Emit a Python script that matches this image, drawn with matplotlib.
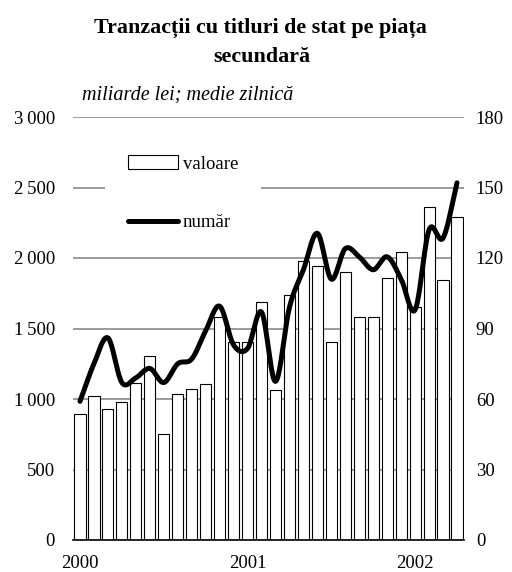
import numpy as np
import matplotlib
matplotlib.use("Agg")
import matplotlib.pyplot as plt
from matplotlib.ticker import FuncFormatter

# monthly, Jan 2000 .. Apr 2002
valoare = [891, 1019, 927, 979, 1111, 1303, 750, 1033, 1069, 1106, 1584, 1402,
           1402, 1690, 1062, 1738, 1981, 1943, 1402, 1898, 1584, 1584, 1860, 2040,
           1650, 2360, 1844, 2289]
numar = [59, 75, 86, 67, 69, 73, 67, 75, 77, 89, 99.5, 83,
         81.5, 97, 67.5, 99, 115, 130.5, 111, 124, 120.5, 115, 120.5, 111,
         98, 132, 128.5, 152]
year_ticks = [0, 12, 24]
year_labels = ["2000", "2001", "2002"]

plt.rcParams['font.family'] = ['Liberation Serif', 'DejaVu Serif']


def smooth(xs, ys, n=20):
    # catmull-rom through the points, like the smoothed line in a spreadsheet
    xs = np.asarray(xs, float)
    ys = np.asarray(ys, float)
    px = np.concatenate([[2 * xs[0] - xs[1]], xs, [2 * xs[-1] - xs[-2]]])
    py = np.concatenate([[2 * ys[0] - ys[1]], ys, [2 * ys[-1] - ys[-2]]])
    ox, oy = [], []
    t = np.linspace(0, 1, n, endpoint=False)
    for i in range(1, len(px) - 2):
        for p, o in ((px, ox), (py, oy)):
            p0, p1, p2, p3 = p[i - 1], p[i], p[i + 1], p[i + 2]
            o.extend(0.5 * (2 * p1 + (-p0 + p2) * t + (2 * p0 - 5 * p1 + 4 * p2 - p3) * t ** 2
                            + (-p0 + 3 * p1 - 3 * p2 + p3) * t ** 3))
    ox.append(xs[-1])
    oy.append(ys[-1])
    return ox, oy


fig = plt.figure(figsize=(5.12, 5.72), dpi=100)
ax = fig.add_axes([73 / 512, 32 / 572, 391 / 512, 423 / 572])
x = np.arange(len(valoare))

ax.set_axisbelow(True)
ax.yaxis.grid(True, color="#808080", lw=1.1)
bars = ax.bar(x, valoare, width=0.8, color="white", edgecolor="black", lw=0.8, label="valoare")
ax.set_xlim(-0.5, len(valoare) - 0.5)
ax.set_ylim(0, 3000)
ax.set_yticks(range(0, 3001, 500))
ax.yaxis.set_major_formatter(FuncFormatter(lambda v, p: f"{int(v):,}".replace(",", "\u2009")))
ax.set_xticks(year_ticks)
ax.set_xticklabels(year_labels)
ax.tick_params(axis="y", length=0, pad=13, labelsize=13.5)
ax.tick_params(axis="x", length=0, pad=11, labelsize=13.5)
for s in ["left", "right", "top"]:
    ax.spines[s].set_visible(False)
ax.spines["bottom"].set_linewidth(1.2)

ax2 = ax.twinx()
sx, sy = smooth(x, numar)
line, = ax2.plot(sx, sy, color="black", lw=3.6, solid_capstyle="round", label="număr")
ax2.set_ylim(0, 180)
ax2.set_yticks(range(0, 181, 30))
ax2.tick_params(axis="y", length=0, pad=8.5, labelsize=13.5)
for s in ax2.spines.values():
    s.set_visible(False)

leg = ax2.legend([bars, line], ["valoare", "număr"], loc="upper left",
                 bbox_to_anchor=(0.058, 0.985), frameon=True, facecolor="white",
                 edgecolor="none", framealpha=1, fancybox=False, fontsize=13.5,
                 handlelength=2.7, handleheight=0.75, handletextpad=0.25,
                 labelspacing=2.2, borderpad=1.2)

fig.text(260 / 512, 1 - 33 / 572, "Tranzacții cu titluri de stat pe piața", ha="center",
         va="baseline", fontsize=15.8, fontweight="bold")
fig.text(262 / 512, 1 - 62 / 572, "secundară", ha="center",
         va="baseline", fontsize=15.8, fontweight="bold")
fig.text(82 / 512, 1 - 100 / 572, "miliarde lei; medie zilnică", fontsize=14.5, style="italic",
         va="baseline")

fig.savefig("out.png")
